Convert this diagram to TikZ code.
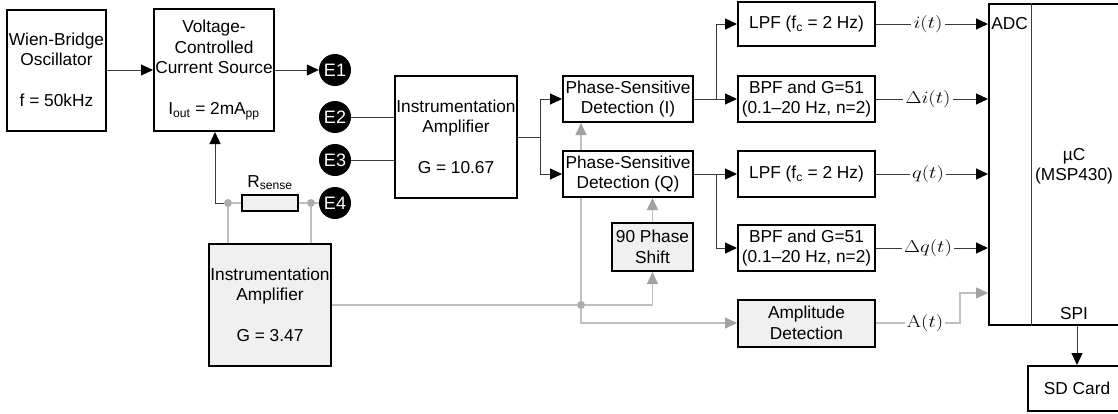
\documentclass[tikz,border=0pt]{standalone}
\usepackage{graphicx}
\usepackage{fontspec}
\setmainfont{Liberation Sans}
\setmathrm{Latin Modern Roman}
\usetikzlibrary{arrows.meta}
\definecolor{wirec}{HTML}{BFBFBF}
\definecolor{panel}{HTML}{F0F0F0}
\definecolor{ink}{HTML}{3A3A3A}
\pgfdeclarelayer{bg}
\pgfsetlayers{bg,main}
\newcommand\blkfont{\fontsize{17.3}{20.5}\selectfont}
\newcommand\sigfont{\fontsize{17.28}{20}\selectfont}
\newcommand\sigtext[1]{\scalebox{1.2}[1]{$#1$}}
\tikzset{
  blk/.style={draw=black, line width=2pt, fill=white, inner sep=0pt, align=center, font=\blkfont},
  shaded/.style={blk, fill=panel},
  term/.style={circle, fill=black, text=white, minimum size=32pt, inner sep=0pt, font=\fontsize{18}{18}\selectfont},
  sig/.style={inner sep=2pt, font=\sigfont},
  wire/.style={draw=ink, line width=1pt},
  arr/.style={wire, -{Triangle[length=12pt,width=11pt,color=black]}},
  gwire/.style={draw=wirec, line width=1.5pt},
  garr/.style={gwire, -{Triangle[length=12pt,width=11pt,color=wirec!85!black]}},
  jdot/.style={circle, fill=wirec!90!black, minimum size=8pt, inner sep=0pt},
}
\begin{document}
\begin{tikzpicture}[x=1pt,y=-1pt]
\useasboundingbox (0,0) rectangle (1118,413);

% excitation chain
\node[blk, minimum width=99pt, minimum height=121pt] (wien) at (56.5,70) {Wien-Bridge\\Oscillator\\[20.5pt]f = 50kHz};
\node[blk, minimum width=120pt, minimum height=122pt] (vccs) at (214,70) {Voltage-\\Controlled\\Current Source\\[20.5pt]I\textsubscript{out} = 2mA\textsubscript{pp}};

% electrodes
\node[term] (e1) at (335,70) {E1};
\node[term] (e2) at (335,117) {E2};
\node[term] (e3) at (335,160) {E3};
\node[term] (e4) at (335,203) {E4};

% amplifiers and sense resistor
\node[blk, minimum width=122pt, minimum height=122pt] (ia1) at (456,137) {Instrumentation\\Amplifier\\[20.5pt]G = 10.67};
\node[shaded, minimum width=56pt, minimum height=16pt] (rs) at (270,203) {};
\node[anchor=base, font=\blkfont, inner sep=0pt] (rslabel) at (270,187) {R\textsubscript{sense}};
\node[shaded, minimum width=122pt, minimum height=122pt] (ia2) at (270,305) {Instrumentation\\Amplifier\\[20.5pt]G = 3.47};

% demodulation
\node[blk, minimum width=130pt, minimum height=46pt] (psdi) at (628,99) {Phase-Sensitive\\Detection (I)};
\node[blk, minimum width=130pt, minimum height=46pt] (psdq) at (628,174) {Phase-Sensitive\\Detection (Q)};
\node[shaded, minimum width=81pt, minimum height=48pt] (ps90) at (652.5,247) {90 Phase\\Shift};

% filters
\node[blk, minimum width=137pt, minimum height=44pt] (lpf1) at (806.5,24) {LPF (f\textsubscript{c} = 2 Hz)};
\node[blk, minimum width=137pt, minimum height=46pt] (bpf1) at (806.5,99) {BPF and G=51\\(0.1–20 Hz, n=2)};
\node[blk, minimum width=137pt, minimum height=46pt] (lpf2) at (806.5,174) {LPF (f\textsubscript{c} = 2 Hz)};
\node[blk, minimum width=137pt, minimum height=46pt] (bpf2) at (806.5,248) {BPF and G=51\\(0.1–20 Hz, n=2)};
\node[shaded, minimum width=137pt, minimum height=47pt] (amp) at (806.5,323) {Amplitude\\Detection};

% microcontroller and storage
\node[blk, minimum width=133pt, minimum height=321pt] (mcu) at (1055.5,164.5) {};
\coordinate (div) at (1031,0);
\draw[line width=1pt, draw=ink] (mcu.north -| div) -- (mcu.south -| div);
\node[font=\blkfont, inner sep=0pt] (adc) at (1009.5,24) {ADC};
\node[font=\blkfont, align=center, inner sep=0pt] (uc) at (1074,166) {µC\\(MSP430)};
\node[font=\blkfont, inner sep=0pt] (spi) at (1074,314) {SPI};
\node[blk, minimum width=98pt, minimum height=45pt] (sd) at (1077,388.5) {SD Card};

% signal names
\node[sig] (it) at (928,24) {\sigtext{i(t)}};
\node[sig] (dit) at (928,99) {\sigtext{\Delta i(t)}};
\node[sig] (qt) at (928,174) {\sigtext{q(t)}};
\node[sig] (dqt) at (928,248) {\sigtext{\Delta q(t)}};
\node[sig] (at) at (925,323) {\sigtext{\mathrm{A}(t)}};

% junction dots
\node[jdot] (dl) at (228,203) {};
\node[jdot] (dr) at (311,203) {};
\node[jdot] (dm) at (581,305) {};

\begin{pgfonlayer}{bg}
  \draw[arr] (wien) -- (vccs);
  \draw[arr] (vccs) -- (e1);
  \draw[wire] (e2) -- (e2 -| ia1.west);
  \draw[wire] (e3) -- (e3 -| ia1.west);

  \coordinate (s1) at (540,137);
  \draw[wire] (ia1.east) -- (s1);
  \draw[arr] (s1) |- (psdi.west);
  \draw[arr] (s1) |- (psdq.west);

  \coordinate (s2) at (716,99);
  \coordinate (s3) at (716,174);
  \draw[arr] (psdi) -- (bpf1);
  \draw[arr] (s2) |- (lpf1.west);
  \draw[arr] (psdq) -- (lpf2);
  \draw[arr] (s3) |- (bpf2.west);

  \draw[wire] (lpf1) -- (it);  \draw[arr] (it) -- (it -| mcu.west);
  \draw[wire] (bpf1) -- (dit); \draw[arr] (dit) -- (dit -| mcu.west);
  \draw[wire] (lpf2) -- (qt);  \draw[arr] (qt) -- (qt -| mcu.west);
  \draw[wire] (bpf2) -- (dqt); \draw[arr] (dqt) -- (dqt -| mcu.west);

  \draw[gwire] (amp) -- (at);
  \coordinate (ak) at (960,323);
  \coordinate (ak2) at (960,293);
  \draw[garr] (at) -- (ak) -- (ak2) -- (ak2 -| mcu.west);

  \draw[arr] (mcu.south -| sd.north) -- (sd.north);

  % current feedback through the sense resistor
  \coordinate (fb) at (215,203);
  \draw[arr] (dl) -- (fb) -- (fb |- vccs.south);
  \draw[gwire] (dl) -- (rs.west);
  \draw[gwire] (rs.east) -- (dr) -- (e4);
  \draw[gwire] (dl) -- (dl |- ia2.north);
  \draw[gwire] (dr) -- (dr |- ia2.north);

  % reference path
  \draw[gwire] (ia2.east |- dm) -- (dm);
  \draw[garr] (dm) -- (dm -| ps90.south) -- (ps90.south);
  \draw[garr] (dm) -- (dm |- psdi.south);
  \draw[garr] (dm) -- (dm |- amp.west) -- (amp.west);
  \draw[garr] (ps90.north) -- (ps90.north |- psdq.south);
\end{pgfonlayer}
\end{tikzpicture}
\end{document}
